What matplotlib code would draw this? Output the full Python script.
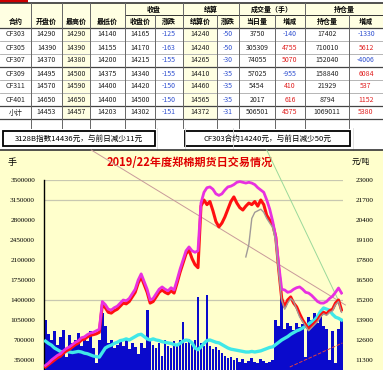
import numpy as np
import matplotlib
matplotlib.use('Agg')
import matplotlib.pyplot as plt
from matplotlib.patches import Rectangle

plt.rcParams['font.family'] = ['Noto Sans CJK SC', 'DejaVu Sans']

# ---- table data ----
group_heads = ['收盘', '结算', '成交量（手）', '持仓量']
col_heads = ['合约', '开盘价', '最高价', '最低价', '收盘价', '涨跌', '结算价', '涨跌',
             '当日量', '增减', '持仓量', '增减']
contracts = ['CF303', 'CF305', 'CF307', 'CF309', 'CF311', 'CF401', '小计']
open_px = [14290, 14390, 14370, 14495, 14570, 14650, 14453]
high_px = [14290, 14390, 14380, 14500, 14590, 14650, 14457]
low_px = [14140, 14155, 14200, 14375, 14400, 14400, 14203]
close_px = [14165, 14170, 14215, 14340, 14420, 14500, 14302]
close_chg = [-125, -163, -155, -155, -150, -150, -151]
settle_px = [14240, 14240, 14265, 14410, 14460, 14565, 14372]
settle_chg = [-50, -50, -30, -35, -35, -35, -31]
volume = [3750, 305309, 74055, 57025, 5454, 2017, 506501]
volume_chg = [-140, 4755, 5070, -955, 410, 616, 4575]
open_int = [17402, 710010, 152040, 158840, 21929, 8794, 1069011]
open_int_chg = [-1330, 5612, -4006, 6084, 537, 1152, 5380]

note_left = '3128B指数14436元，与前日减少11元'
note_right = 'CF303合约14240元，与前日减少50元'

# ---- chart data ----
chart_title = '2019/22年度郑棉期货日交易情况'
vol_ticks = [350000, 700000, 1050000, 1400000, 1750000, 2100000, 2450000, 2800000, 3150000, 3500000]
price_ticks = [11300, 12600, 13900, 15200, 16500, 17800, 19100, 20400, 21700, 23000]

daily_volume = [1050000, 800000, 700000, 850000, 620000, 750000, 870000, 400000, 780000, 650000,
                700000, 820000, 600000, 760000, 680000, 850000, 560000, 300000, 700000, 1170000,
                950000, 640000, 700000, 560000, 620000, 680000, 600000, 720000, 540000, 650000,
                580000, 450000, 640000, 560000, 1225000, 700000, 620000, 560000, 650000, 420000,
                700000, 600000, 560000, 680000, 620000, 700000, 1015000, 640000, 720000, 620000,
                700000, 1450000, 650000, 600000, 1490000, 600000, 550000, 580000, 520000, 480000,
                420000, 380000, 400000, 350000, 380000, 320000, 360000, 300000, 340000, 380000,
                320000, 300000, 360000, 330000, 300000, 320000, 350000, 1050000, 950000, 1450000,
                900000, 1000000, 950000, 880000, 1000000, 920000, 980000, 400000, 1100000, 1050000,
                1170000, 1000000, 1120000, 950000, 900000, 350000, 850000, 300000, 900000, 1050000]

position = [680000, 640000, 610000, 560000, 530000, 500000, 490000, 500000, 490000, 480000,
            490000, 500000, 490000, 470000, 460000, 440000, 420000, 410000, 400000, 480000,
            560000, 590000, 610000, 640000, 660000, 690000, 700000, 720000, 700000, 730000,
            760000, 790000, 800000, 760000, 720000, 700000, 720000, 700000, 690000, 670000,
            660000, 650000, 640000, 620000, 610000, 640000, 680000, 700000, 690000, 650000,
            560000, 530000, 580000, 640000, 690000, 700000, 680000, 660000, 650000, 620000,
            590000, 560000, 540000, 530000, 520000, 510000, 500000, 490000, 490000, 500000,
            490000, 500000, 510000, 530000, 550000, 570000, 580000, 620000, 660000, 700000,
            730000, 760000, 800000, 830000, 860000, 880000, 910000, 940000, 980000, 1020000,
            1050000, 1110000, 1200000, 1260000, 1240000, 1220000, 1150000, 1100000, 1080000, 1050000]

settle_price = [10850, 11000, 11150, 11300, 11450, 11550, 11750, 11900, 12000, 12150,
                12300, 12400, 12600, 12650, 12800, 12900, 12950, 13000, 13100, 14900,
                14700, 14400, 14350, 14500, 14600, 14800, 15000, 14950, 15100, 15400,
                15700, 16300, 16700, 16200, 15700, 15000, 15100, 15400, 15700, 15850,
                15700, 15600, 15800, 15650, 16300, 17000, 17600, 18200, 18450, 17900,
                17500, 17300, 21300, 21700, 21400, 21600, 21000, 20300, 19950, 20200,
                20600, 21100, 21600, 21900, 21500, 21200, 21050, 21300, 21500, 21400,
                21600, 21300, 21700, 21400, 20700, 20400, 20100, 19300, 17200, 15300,
                14750, 15200, 15400, 15000, 14750, 14300, 13900, 13600, 13300, 13500,
                13700, 13900, 14200, 14400, 14300, 14500, 14600, 15000, 15200, 14550]

index_price = [10950, 11100, 11300, 11450, 11600, 11700, 11900, 12050, 12150, 12300,
               12450, 12550, 12750, 12800, 12950, 13050, 13100, 13200, 13300, 15100,
               14900, 14600, 14550, 14700, 14800, 15000, 15200, 15150, 15300, 15600,
               15900, 16500, 16900, 16400, 15900, 15200, 15300, 15600, 15900, 16050,
               15900, 15800, 16000, 15850, 16500, 17200, 17800, 18400, 18650, 18400,
               18300, 18400, 21500, 22200, 22500, 22550, 22400, 22100, 22000, 22100,
               22350, 22550, 22600, 22700, 22850, 22900, 22850, 22800, 22850, 22800,
               22700, 22500, 22350, 22200, 21700, 21100, 20300, 19300, 17500, 15900,
               15850, 15700, 15750, 15900, 16000, 16050, 15900, 15700, 15650, 15500,
               15300, 15100, 15000, 15000, 15100, 15300, 15450, 15700, 15980, 15650]

nan = float('nan')
main_price = [nan] * 67 + [18000, 18800, 20500, 20900, 21000, 21100, 20900, 20500, 20200, 19900,
                           19000, 17000, 15200, 14600, 15000, 15300, 15100, 14600, 14100, 13800,
                           13500, 13200, 13400, 13600, 13800, 14100, 14300, 14200, 14400, 14500,
                           14900, 15100, 14400]

# trend lines drawn on the chart: (index, price) end points
trend_pink = [(15.3, 24950), (100.3, 14875)]
trend_green = [(74.0, 24950), (98.7, 14875)]
trend_red = [(81.7, 10845), (99.3, 12405)]

W, H = 383, 370
fig = plt.figure(figsize=(W / 100, H / 100), dpi=100)

bg = fig.add_axes([0, 0, 1, 1])
bg.set_xlim(0, W)
bg.set_ylim(H, 0)
bg.axis('off')

# ---- table ----
col_edges = [0, 31, 62, 90, 125, 155, 183, 217, 239, 275, 305, 349, 383]
row_edges = [28, 41, 54, 67, 80, 93, 106, 119]
cream = '#FFFFE2'
bg.add_patch(Rectangle((0, 3), W, 25, color=cream, lw=0))
for c in (2, 6):
    bg.add_patch(Rectangle((col_edges[c], 28), col_edges[c + 1] - col_edges[c], 91, color=cream, lw=0))
bg.add_patch(Rectangle((0, 0), 28, 3, color='#CC0000', lw=0))
bg.plot([0, W], [3, 3], color='#333333', lw=1.2)
bg.plot([125, W], [15, 15], color='#333333', lw=0.7)
for y in [28] + row_edges[1:]:
    dark = y in (28, 67, 106, 119)
    bg.plot([0, W], [y, y], color='#444444' if dark else '#AAAAAA', lw=0.9 if dark else 0.6)
for i, x in enumerate(col_edges[1:-1], start=1):
    top = 15 if i in (5, 7, 9, 11) else 3
    bg.plot([x, x], [top, 128], color='#666666', lw=0.7)

group_spans = [(4, 6), (6, 8), (8, 10), (10, 12)]
for text, (a, b) in zip(group_heads, group_spans):
    bg.text((col_edges[a] + col_edges[b]) / 2, 9, text, ha='center', va='center',
            fontsize=5, fontweight='bold')
for i, text in enumerate(col_heads):
    y = 21.5
    bg.text((col_edges[i] + col_edges[i + 1]) / 2, y, text, ha='center', va='center',
            fontsize=5, fontweight='bold')

columns = [contracts, open_px, high_px, low_px, close_px, close_chg, settle_px, settle_chg,
           volume, volume_chg, open_int, open_int_chg]
for c, col in enumerate(columns):
    cx = (col_edges[c] + col_edges[c + 1]) / 2
    for r, val in enumerate(col):
        cy = (row_edges[r] + row_edges[r + 1]) / 2
        color = '#222222'
        if c in (5, 7, 9, 11):
            color = '#3050D0' if val < 0 else '#E02020'
        bg.text(cx, cy, str(val), ha='center', va='center', fontsize=5, color=color)

# spreadsheet grid under the table
for x in (157, 185, 233, 353):
    bg.plot([x, x], [128, 150], color='#DDDDDD', lw=0.6)

# note boxes
bg.add_patch(Rectangle((3, 131), 152, 15, fc='white', ec='black', lw=1.3))
bg.text(79, 138.5, note_left, ha='center', va='center', fontsize=5.5)
bg.add_patch(Rectangle((185, 131), 165, 15, fc='white', ec='black', lw=1.3))
bg.text(267, 138.5, note_right, ha='center', va='center', fontsize=5.5)

# chart panel
bg.add_patch(Rectangle((0, 150), W, H - 150, color='#FFFFCC', lw=0))
bg.plot([0, W], [150, 150], color='#333333', lw=1.2)
bg.text(8, 162, '手', ha='left', va='center', fontsize=6.5)
bg.text(190, 162, chart_title, ha='center', va='center', fontsize=8, color='#E00000',
        fontweight='bold')
bg.text(352, 162, '元/吨', ha='left', va='center', fontsize=5.5)

# ---- chart ----
idx = np.arange(len(daily_volume))
ax = fig.add_axes([44 / W, -10 / H, 299 / W, 200 / H])
ax.set_facecolor('none')
for g in (3500000, 3150000, 1400000):
    ax.axhline(g, color='#C8C8B0', lw=0.9, zorder=0)
ax.bar(idx, daily_volume, width=0.9, color='#0A0ACC', zorder=1)
ax.plot(idx, position, color='#40E8E8', lw=2.4, zorder=3)
ax.set_xlim(-0.5, len(idx) - 0.5)
ax.set_ylim(0, 3500000)
ax.set_yticks(vol_ticks)
ax.set_yticklabels([str(v) for v in vol_ticks], family='Liberation Serif', fontsize=5.2)
ax.tick_params(axis='y', length=0, pad=6.5)
ax.set_xticks([])
for s in ('top', 'right', 'bottom'):
    ax.spines[s].set_visible(False)
ax.spines['left'].set_color('black')
ax.spines['left'].set_linewidth(1.0)

ax2 = ax.twinx()
ax2.plot(idx, settle_price, color='#FF1010', lw=2.2, zorder=3)
ax2.plot(idx, index_price, color='#E830E0', lw=2.0, zorder=4)
ax2.plot(idx, main_price, color='#A09A98', lw=1.0, zorder=5)
for pts, col, ls in ((trend_pink, '#C89A9A', '-'), (trend_green, '#9AD89A', '-'),
                     (trend_red, '#E04040', '--')):
    xs, ys = zip(*pts)
    ax2.plot(xs, ys, color=col, lw=0.7, ls=ls, clip_on=False, zorder=2)
ax2.set_ylim(10000, 23000)
ax2.set_yticks(price_ticks)
ax2.set_yticklabels([str(v) for v in price_ticks], family='Liberation Serif', fontsize=5.2)
ax2.tick_params(axis='y', length=0, pad=9)
for s in ax2.spines.values():
    s.set_visible(False)

fig.savefig('out.png', dpi=100)
